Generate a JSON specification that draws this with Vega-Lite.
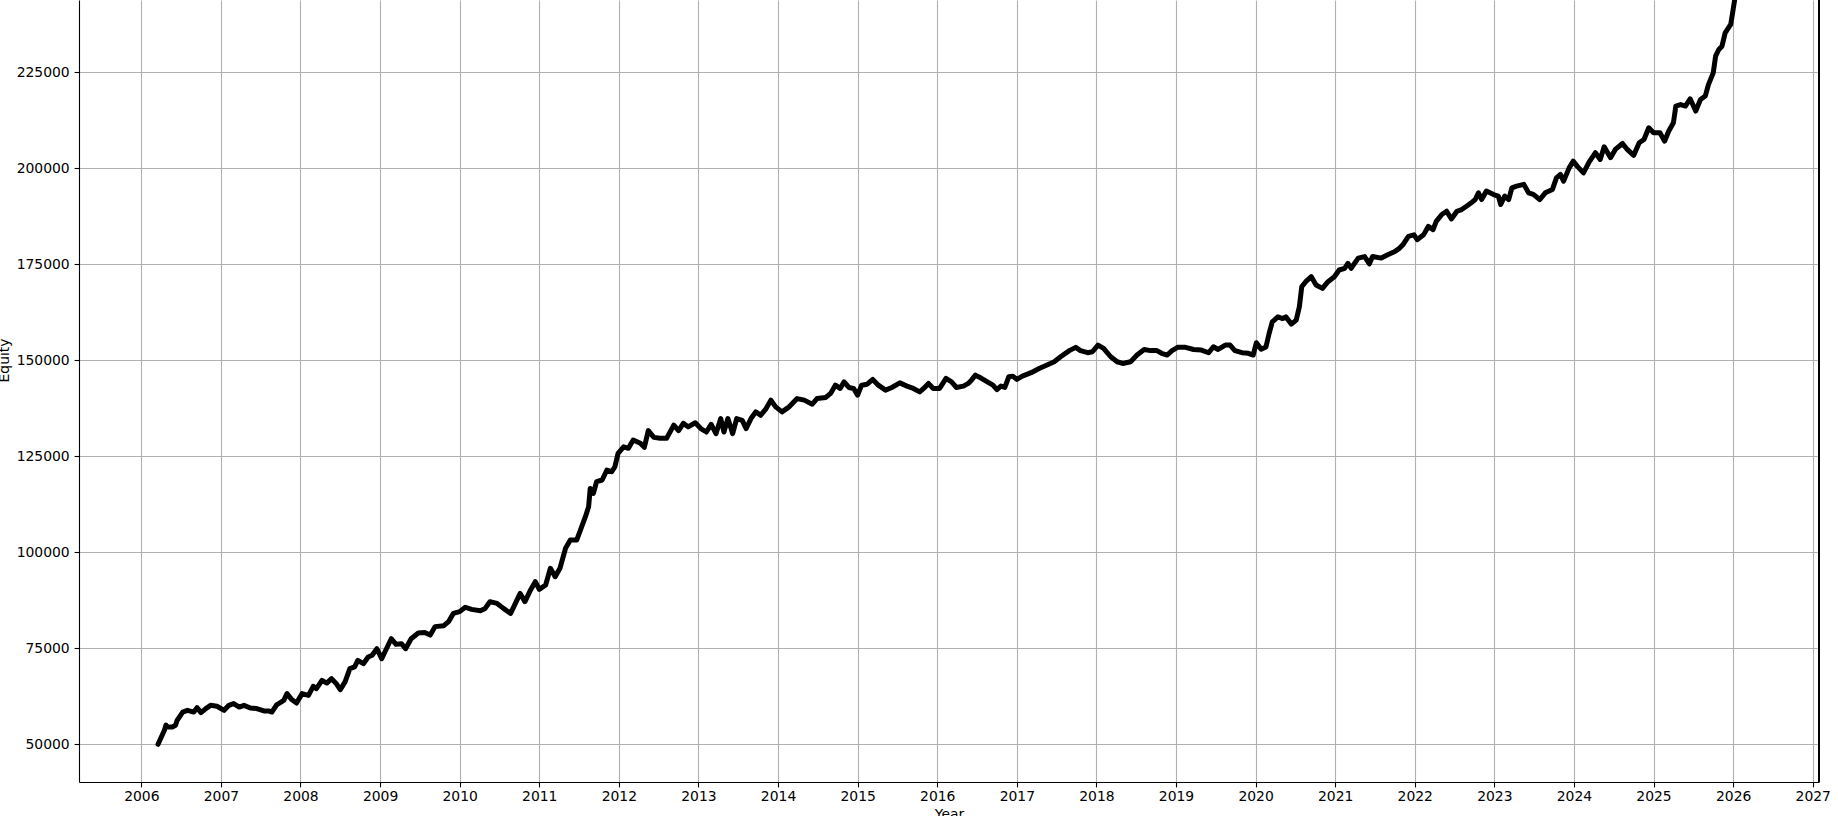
{
  "$schema": "https://vega.github.io/schema/vega-lite/v6.json",
  "width": 1740,
  "height": 782,
  "autosize": {"type": "none"},
  "padding": {"left": 79, "top": 0, "right": 19, "bottom": 34},
  "background": "white",
  "config": {
    "view": {"stroke": null},
    "axis": {
      "labelFont": "DejaVu Sans", "labelFontSize": 13.9, "labelColor": "black",
      "titleFont": "DejaVu Sans", "titleFontSize": 13.9, "titleFontWeight": "normal", "titleColor": "black",
      "tickColor": "black", "tickWidth": 1.1, "tickSize": 4.9,
      "domainColor": "black", "domainWidth": 1.1,
      "gridColor": "#b0b0b0", "gridWidth": 1.1, "gridOpacity": 1
    }
  },
  "data": {"values": [
    {"year": 2006.21, "equity": 50000}, {"year": 2006.29, "equity": 53650}, {"year": 2006.31, "equity": 55000}, {"year": 2006.33, "equity": 54500},
    {"year": 2006.39, "equity": 54500}, {"year": 2006.43, "equity": 54950}, {"year": 2006.45, "equity": 56250}, {"year": 2006.52, "equity": 58400},
    {"year": 2006.58, "equity": 58850}, {"year": 2006.66, "equity": 58400}, {"year": 2006.70, "equity": 59550}, {"year": 2006.75, "equity": 58250},
    {"year": 2006.81, "equity": 59300}, {"year": 2006.87, "equity": 60150}, {"year": 2006.95, "equity": 59900}, {"year": 2007.04, "equity": 58850},
    {"year": 2007.10, "equity": 60150}, {"year": 2007.16, "equity": 60600}, {"year": 2007.23, "equity": 59700}, {"year": 2007.29, "equity": 60150},
    {"year": 2007.37, "equity": 59450}, {"year": 2007.45, "equity": 59300}, {"year": 2007.54, "equity": 58700}, {"year": 2007.60, "equity": 58700},
    {"year": 2007.64, "equity": 58400}, {"year": 2007.70, "equity": 60300}, {"year": 2007.79, "equity": 61450}, {"year": 2007.83, "equity": 63200},
    {"year": 2007.89, "equity": 61650}, {"year": 2007.95, "equity": 60750}, {"year": 2008.02, "equity": 63200}, {"year": 2008.10, "equity": 62750},
    {"year": 2008.16, "equity": 65100}, {"year": 2008.20, "equity": 64500}, {"year": 2008.27, "equity": 66650}, {"year": 2008.33, "equity": 65950},
    {"year": 2008.39, "equity": 67100}, {"year": 2008.45, "equity": 65800}, {"year": 2008.50, "equity": 64250}, {"year": 2008.56, "equity": 66250},
    {"year": 2008.62, "equity": 69700}, {"year": 2008.68, "equity": 70150}, {"year": 2008.72, "equity": 71850}, {"year": 2008.79, "equity": 71000},
    {"year": 2008.85, "equity": 72750}, {"year": 2008.90, "equity": 73200}, {"year": 2008.96, "equity": 74900}, {"year": 2009.02, "equity": 72300},
    {"year": 2009.08, "equity": 74900}, {"year": 2009.14, "equity": 77500}, {"year": 2009.20, "equity": 76050}, {"year": 2009.27, "equity": 76200},
    {"year": 2009.32, "equity": 74900}, {"year": 2009.39, "equity": 77500}, {"year": 2009.48, "equity": 79000}, {"year": 2009.56, "equity": 79100},
    {"year": 2009.63, "equity": 78450}, {"year": 2009.69, "equity": 80650}, {"year": 2009.80, "equity": 80900}, {"year": 2009.86, "equity": 81950},
    {"year": 2009.92, "equity": 84100}, {"year": 2010.00, "equity": 84550}, {"year": 2010.07, "equity": 85700}, {"year": 2010.15, "equity": 85150},
    {"year": 2010.26, "equity": 84800}, {"year": 2010.32, "equity": 85400}, {"year": 2010.38, "equity": 87150}, {"year": 2010.47, "equity": 86700},
    {"year": 2010.55, "equity": 85400}, {"year": 2010.64, "equity": 84100}, {"year": 2010.70, "equity": 86700}, {"year": 2010.76, "equity": 89300},
    {"year": 2010.82, "equity": 87150}, {"year": 2010.89, "equity": 90200}, {"year": 2010.95, "equity": 92350}, {"year": 2011.00, "equity": 90350},
    {"year": 2011.08, "equity": 91500}, {"year": 2011.14, "equity": 95850}, {"year": 2011.20, "equity": 93650}, {"year": 2011.26, "equity": 95850},
    {"year": 2011.33, "equity": 101050}, {"year": 2011.39, "equity": 103200}, {"year": 2011.47, "equity": 103200}, {"year": 2011.51, "equity": 105400},
    {"year": 2011.58, "equity": 109300}, {"year": 2011.62, "equity": 111900}, {"year": 2011.64, "equity": 116650}, {"year": 2011.68, "equity": 115350},
    {"year": 2011.72, "equity": 118400}, {"year": 2011.79, "equity": 118850}, {"year": 2011.85, "equity": 121450}, {"year": 2011.91, "equity": 121000},
    {"year": 2011.95, "equity": 122300}, {"year": 2011.99, "equity": 125800}, {"year": 2012.06, "equity": 127500}, {"year": 2012.12, "equity": 127100},
    {"year": 2012.18, "equity": 129250}, {"year": 2012.27, "equity": 128400}, {"year": 2012.32, "equity": 127350}, {"year": 2012.37, "equity": 131700},
    {"year": 2012.44, "equity": 129950}, {"year": 2012.52, "equity": 129700}, {"year": 2012.60, "equity": 129700}, {"year": 2012.69, "equity": 133150},
    {"year": 2012.75, "equity": 131700}, {"year": 2012.81, "equity": 133600}, {"year": 2012.87, "equity": 132700}, {"year": 2012.96, "equity": 133750},
    {"year": 2013.03, "equity": 132250}, {"year": 2013.10, "equity": 131350}, {"year": 2013.16, "equity": 133350}, {"year": 2013.22, "equity": 130900},
    {"year": 2013.28, "equity": 134850}, {"year": 2013.32, "equity": 131350}, {"year": 2013.37, "equity": 134850}, {"year": 2013.43, "equity": 130900},
    {"year": 2013.48, "equity": 134850}, {"year": 2013.55, "equity": 134400}, {"year": 2013.60, "equity": 132250}, {"year": 2013.66, "equity": 134850},
    {"year": 2013.72, "equity": 136600}, {"year": 2013.78, "equity": 135700}, {"year": 2013.85, "equity": 137450}, {"year": 2013.91, "equity": 139650},
    {"year": 2013.97, "equity": 137900}, {"year": 2014.05, "equity": 136600}, {"year": 2014.14, "equity": 137900}, {"year": 2014.24, "equity": 140050},
    {"year": 2014.33, "equity": 139650}, {"year": 2014.43, "equity": 138600}, {"year": 2014.49, "equity": 140050}, {"year": 2014.60, "equity": 140350},
    {"year": 2014.66, "equity": 141400}, {"year": 2014.72, "equity": 143550}, {"year": 2014.78, "equity": 142700}, {"year": 2014.83, "equity": 144400},
    {"year": 2014.89, "equity": 142950}, {"year": 2014.95, "equity": 142700}, {"year": 2015.00, "equity": 140950}, {"year": 2015.05, "equity": 143550},
    {"year": 2015.12, "equity": 143800}, {"year": 2015.19, "equity": 145050}, {"year": 2015.26, "equity": 143550}, {"year": 2015.35, "equity": 142250},
    {"year": 2015.43, "equity": 142950}, {"year": 2015.53, "equity": 144150}, {"year": 2015.62, "equity": 143300}, {"year": 2015.70, "equity": 142700},
    {"year": 2015.78, "equity": 141800}, {"year": 2015.83, "equity": 142700}, {"year": 2015.89, "equity": 144000}, {"year": 2015.95, "equity": 142700},
    {"year": 2016.03, "equity": 142700}, {"year": 2016.11, "equity": 145300}, {"year": 2016.18, "equity": 144400}, {"year": 2016.24, "equity": 142950},
    {"year": 2016.33, "equity": 143300}, {"year": 2016.39, "equity": 144000}, {"year": 2016.43, "equity": 144850}, {"year": 2016.48, "equity": 146150},
    {"year": 2016.55, "equity": 145400}, {"year": 2016.63, "equity": 144400}, {"year": 2016.70, "equity": 143550}, {"year": 2016.75, "equity": 142400},
    {"year": 2016.80, "equity": 143300}, {"year": 2016.85, "equity": 142950}, {"year": 2016.90, "equity": 145750}, {"year": 2016.95, "equity": 145900},
    {"year": 2017.00, "equity": 145050}, {"year": 2017.07, "equity": 145900}, {"year": 2017.18, "equity": 146800}, {"year": 2017.28, "equity": 147900},
    {"year": 2017.38, "equity": 148800}, {"year": 2017.47, "equity": 149650}, {"year": 2017.55, "equity": 150950}, {"year": 2017.66, "equity": 152550},
    {"year": 2017.74, "equity": 153400}, {"year": 2017.80, "equity": 152550}, {"year": 2017.89, "equity": 152000}, {"year": 2017.95, "equity": 152250},
    {"year": 2018.02, "equity": 154000}, {"year": 2018.09, "equity": 153150}, {"year": 2018.18, "equity": 150950}, {"year": 2018.26, "equity": 149650},
    {"year": 2018.33, "equity": 149200}, {"year": 2018.43, "equity": 149650}, {"year": 2018.51, "equity": 151400}, {"year": 2018.60, "equity": 152850},
    {"year": 2018.68, "equity": 152550}, {"year": 2018.76, "equity": 152550}, {"year": 2018.82, "equity": 151850}, {"year": 2018.89, "equity": 151400},
    {"year": 2018.95, "equity": 152550}, {"year": 2019.02, "equity": 153400}, {"year": 2019.12, "equity": 153400}, {"year": 2019.22, "equity": 152850},
    {"year": 2019.32, "equity": 152700}, {"year": 2019.41, "equity": 152000}, {"year": 2019.47, "equity": 153550}, {"year": 2019.53, "equity": 152850},
    {"year": 2019.62, "equity": 154000}, {"year": 2019.68, "equity": 154000}, {"year": 2019.74, "equity": 152550}, {"year": 2019.83, "equity": 152000},
    {"year": 2019.91, "equity": 151850}, {"year": 2019.97, "equity": 151400}, {"year": 2020.01, "equity": 154600}, {"year": 2020.07, "equity": 152900},
    {"year": 2020.13, "equity": 153500}, {"year": 2020.17, "equity": 157000}, {"year": 2020.21, "equity": 160050}, {"year": 2020.28, "equity": 161350},
    {"year": 2020.34, "equity": 160900}, {"year": 2020.38, "equity": 161350}, {"year": 2020.45, "equity": 159450}, {"year": 2020.51, "equity": 160500},
    {"year": 2020.55, "equity": 163950}, {"year": 2020.58, "equity": 169200}, {"year": 2020.63, "equity": 170500}, {"year": 2020.70, "equity": 171800},
    {"year": 2020.76, "equity": 169650}, {"year": 2020.84, "equity": 168750}, {"year": 2020.91, "equity": 170500}, {"year": 2020.99, "equity": 171800},
    {"year": 2021.05, "equity": 173550}, {"year": 2021.12, "equity": 174000}, {"year": 2021.16, "equity": 175300}, {"year": 2021.20, "equity": 174000},
    {"year": 2021.29, "equity": 176650}, {"year": 2021.37, "equity": 177050}, {"year": 2021.43, "equity": 175150}, {"year": 2021.47, "equity": 177050},
    {"year": 2021.58, "equity": 176650}, {"year": 2021.66, "equity": 177500}, {"year": 2021.75, "equity": 178350}, {"year": 2021.81, "equity": 179250},
    {"year": 2021.85, "equity": 180100}, {"year": 2021.92, "equity": 182300}, {"year": 2021.99, "equity": 182700}, {"year": 2022.03, "equity": 181450},
    {"year": 2022.11, "equity": 182700}, {"year": 2022.17, "equity": 184900}, {"year": 2022.23, "equity": 184050}, {"year": 2022.27, "equity": 186200},
    {"year": 2022.34, "equity": 188000}, {"year": 2022.40, "equity": 188850}, {"year": 2022.46, "equity": 186850}, {"year": 2022.53, "equity": 188850},
    {"year": 2022.59, "equity": 189300}, {"year": 2022.65, "equity": 190150}, {"year": 2022.71, "equity": 191050}, {"year": 2022.76, "equity": 191900},
    {"year": 2022.80, "equity": 193650}, {"year": 2022.84, "equity": 191900}, {"year": 2022.90, "equity": 194100}, {"year": 2022.99, "equity": 193200},
    {"year": 2023.05, "equity": 192800}, {"year": 2023.08, "equity": 190600}, {"year": 2023.13, "equity": 192800}, {"year": 2023.18, "equity": 191900},
    {"year": 2023.22, "equity": 194950}, {"year": 2023.28, "equity": 195400}, {"year": 2023.37, "equity": 195850}, {"year": 2023.43, "equity": 193650},
    {"year": 2023.49, "equity": 193250}, {"year": 2023.57, "equity": 191900}, {"year": 2023.64, "equity": 193650}, {"year": 2023.73, "equity": 194550},
    {"year": 2023.78, "equity": 197550}, {"year": 2023.83, "equity": 198450}, {"year": 2023.87, "equity": 196700}, {"year": 2023.94, "equity": 200150},
    {"year": 2023.99, "equity": 201900}, {"year": 2024.04, "equity": 200600}, {"year": 2024.12, "equity": 198850}, {"year": 2024.19, "equity": 201650},
    {"year": 2024.27, "equity": 204100}, {"year": 2024.33, "equity": 202350}, {"year": 2024.38, "equity": 205650}, {"year": 2024.46, "equity": 202800},
    {"year": 2024.52, "equity": 204950}, {"year": 2024.61, "equity": 206500}, {"year": 2024.67, "equity": 204950}, {"year": 2024.75, "equity": 203400},
    {"year": 2024.82, "equity": 206700}, {"year": 2024.88, "equity": 207550}, {"year": 2024.94, "equity": 210600}, {"year": 2025.00, "equity": 209300},
    {"year": 2025.08, "equity": 209300}, {"year": 2025.14, "equity": 207100}, {"year": 2025.19, "equity": 209700}, {"year": 2025.25, "equity": 211900},
    {"year": 2025.28, "equity": 216250}, {"year": 2025.34, "equity": 216650}, {"year": 2025.40, "equity": 216250}, {"year": 2025.46, "equity": 218150},
    {"year": 2025.53, "equity": 214950}, {"year": 2025.59, "equity": 217950}, {"year": 2025.65, "equity": 218850}, {"year": 2025.69, "equity": 221850},
    {"year": 2025.75, "equity": 224900}, {"year": 2025.78, "equity": 229250}, {"year": 2025.82, "equity": 231000}, {"year": 2025.86, "equity": 231850},
    {"year": 2025.90, "equity": 235300}, {"year": 2025.97, "equity": 237500}, {"year": 2026.00, "equity": 241400}, {"year": 2026.02, "equity": 244000},
    {"year": 2026.05, "equity": 247000}
  ]},
  "layer": [
    {
      "mark": {"type": "line", "color": "black", "strokeWidth": 5, "strokeJoin": "round", "strokeCap": "round", "clip": true},
      "encoding": {
        "x": {
          "field": "year", "type": "quantitative", "title": "Year",
          "scale": {"domain": [2005.217, 2027.079], "nice": false, "zero": false},
          "axis": {"values": [2006, 2007, 2008, 2009, 2010, 2011, 2012, 2013, 2014, 2015, 2016, 2017, 2018, 2019, 2020, 2021, 2022, 2023, 2024, 2025, 2026, 2027], "format": "d", "labelPadding": 3, "titlePadding": 4, "labelFlush": false, "labelOverlap": false}
        },
        "y": {
          "field": "equity", "type": "quantitative", "title": "Equity",
          "scale": {"domain": [40180, 243880], "nice": false, "zero": false},
          "axis": {"values": [50000, 75000, 100000, 125000, 150000, 175000, 200000, 225000], "format": "d", "labelPadding": 4.9, "titlePadding": 5, "titleY": 360, "labelFlush": false, "labelOverlap": false}
        }
      }
    },
    {
      "mark": {"type": "rule", "color": "black", "strokeWidth": 1.1},
      "encoding": {"x": {"datum": 2027.079, "type": "quantitative"}}
    }
  ]
}
